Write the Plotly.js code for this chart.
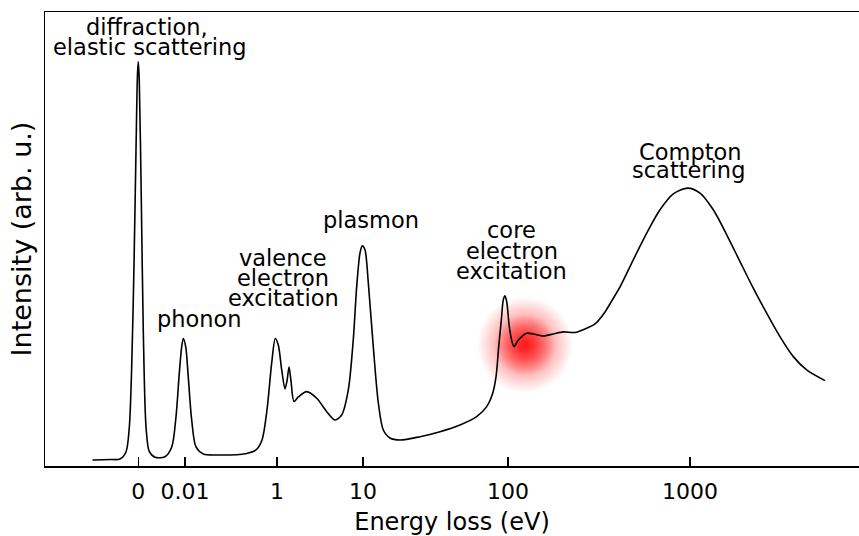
<!DOCTYPE html>
<html>
<head>
<meta charset="utf-8">
<script src="https://cdn.plot.ly/plotly-3.0.1.min.js"></script>
<style>
  html, body { margin: 0; padding: 0; background: #fff; }
  #chart { width: 859px; height: 536px; }
</style>
</head>
<body>
<div id="chart"></div>
<script>
// Schematic energy-loss spectrum: position along a stretched energy scale vs. intensity (arb. u.)
const position = [
  5.84, 7.99, 9.21, 9.95, 10.36, 10.65, 10.93, 11.18, 11.36, 11.46, 11.58, 11.83, 12.08, 12.41, 12.81,
  13.51, 14.74, 15.57, 16.09, 16.50, 16.79, 16.99, 17.29, 17.60, 18.02, 18.55, 19.45, 21.09, 24.78,
  25.92, 26.66, 27.27, 27.85, 28.29, 28.66, 29.08, 29.48, 29.73, 29.98, 30.22, 30.59, 31.12, 32.15,
  33.38, 34.61, 35.63, 36.45, 37.26, 37.87, 38.29, 38.70, 38.98, 39.31, 39.72, 40.33, 40.95, 41.56,
  42.38, 43.61, 46.07, 48.53, 50.98, 53.03, 54.26, 55.00, 55.41, 55.74, 56.06, 56.30, 56.51, 56.72,
  57.04, 57.37, 57.62, 58.02, 58.56, 59.18, 59.99, 61.22, 62.44, 63.67, 65.11, 66.34, 67.57, 68.80,
  69.66, 70.64, 72.27, 73.92, 75.55, 77.19, 78.96, 80.47, 82.10, 83.75, 85.38, 87.01, 88.66, 90.29,
  91.93, 93.57, 95.82
];
const intensity = [
  1.32, 1.43, 1.54, 3.09, 8.60, 21.82, 43.86, 69.65, 86.18, 89.05, 85.08, 58.63, 29.31, 8.60, 3.20,
  1.92, 2.05, 4.19, 10.80, 20.50, 26.23, 28.10, 26.23, 19.62, 10.14, 4.19, 2.64, 2.42, 2.76,
  3.53, 5.73, 12.34, 22.70, 28.10, 26.67, 21.16, 16.97, 18.73, 21.82, 18.73, 14.22, 15.21, 16.38,
  14.92, 11.97, 10.14, 11.24, 16.75, 27.77, 39.45, 46.95, 48.49, 47.61, 40.34, 26.23, 13.89, 7.93,
  6.17, 5.73, 6.46, 7.56, 9.04, 10.87, 13.07, 16.02, 19.68, 26.29, 32.18, 36.59, 37.47, 36.21,
  30.70, 27.40, 26.29, 27.40, 28.50, 29.25, 29.09, 28.65, 29.09, 29.54, 29.42, 30.20, 31.30, 33.94,
  36.48, 39.45, 45.40, 51.29, 56.43, 59.95, 61.21, 60.11, 56.43, 50.92, 45.03, 39.17, 33.66, 28.50,
  24.09, 21.16, 18.80
];

// Energy tick marks along the stretched scale
const tickPositions = [11.46, 17.2, 28.5, 39.07, 56.88, 79.24];
const tickLabels = ['0', '0.01', '1', '10', '100', '1000'];

// Highlight spot on the core-electron edge (outer halo and brighter core)
const highlightX = [58.97, 58.97];
const highlightY = [26.67, 26.67];

// Feature labels, one entry per text line
const labelText = [
  'diffraction,', 'elastic scattering',
  'phonon',
  'valence', 'electron', 'excitation',
  'plasmon',
  'core', 'electron', 'excitation',
  'Compton', 'scattering'
];
const labelX = [12.53, 12.84, 18.92, 29.25, 29.25, 29.25, 39.99, 57.35, 57.35, 57.35, 79.24, 79.0];
const labelY = [96.6, 92.2, 32.4, 45.85, 41.44, 36.95, 54.22, 51.9, 47.4, 42.9, 69.2, 65.3];

const FONT = 'DejaVu Sans, Arial, sans-serif';

const traces = [
  {
    x: highlightX, y: highlightY,
    type: 'scatter', mode: 'markers',
    marker: {
      size: [96, 62],
      color: 'rgba(255,0,0,0)',
      gradient: { type: 'radial', color: 'rgba(255,0,0,1)' },
      line: { width: 0 }
    },
    hoverinfo: 'skip'
  },
  {
    x: position, y: intensity,
    type: 'scatter', mode: 'lines',
    line: { color: '#000', width: 1.6, shape: 'spline', smoothing: 0.8 },
    hoverinfo: 'skip'
  }
];

const annotations = labelText.map((t, i) => ({
  text: t, x: labelX[i], y: labelY[i], xref: 'x', yref: 'y',
  xanchor: 'center', yanchor: 'middle', showarrow: false,
  font: { family: FONT, size: 22.5, color: '#000' }
}));

const layout = {
  width: 859, height: 536,
  margin: { l: 45, r: 0, t: 12, b: 70, pad: 0 },
  paper_bgcolor: '#fff', plot_bgcolor: '#fff',
  showlegend: false,
  xaxis: {
    range: [0, 100], showgrid: false, zeroline: false,
    showline: true, linecolor: '#000', linewidth: 1.5, mirror: true,
    ticks: 'inside', ticklen: 9, tickwidth: 1.5, tickcolor: '#000',
    tickvals: tickPositions, ticktext: tickLabels,
    ticklabelstandoff: 5,
    tickfont: { family: FONT, size: 22, color: '#000' },
    title: { text: 'Energy loss (eV)', font: { family: FONT, size: 24, color: '#000' }, standoff: 10 }
  },
  yaxis: {
    range: [0, 100], showgrid: false, zeroline: false,
    showline: true, linecolor: '#000', linewidth: 1.5,
    ticks: '', showticklabels: false,
    title: { text: 'Intensity (arb. u.)', font: { family: FONT, size: 27, color: '#000' }, standoff: 4 }
  },
  annotations: annotations
};

Plotly.newPlot('chart', traces, layout, { staticPlot: true, displayModeBar: false });
</script>
</body>
</html>
